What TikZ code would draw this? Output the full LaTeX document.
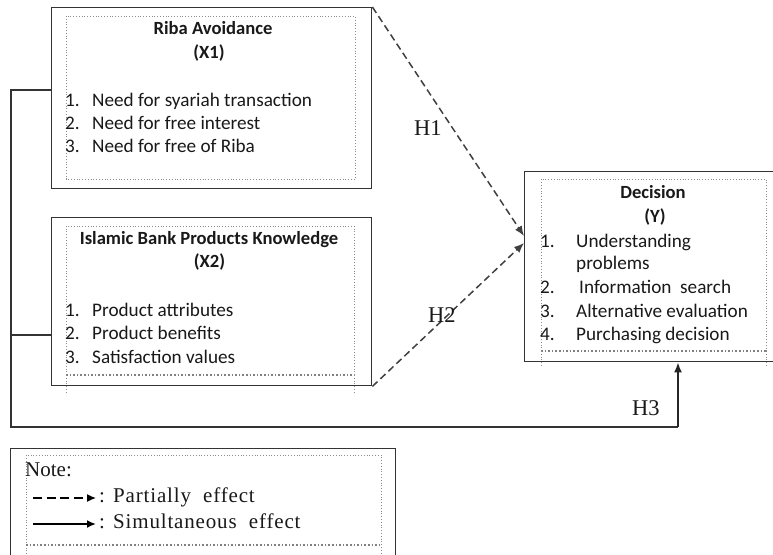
\documentclass[tikz,border=0pt]{standalone}
\usepackage{fontspec}
\setmainfont{Liberation Serif}
\newfontfamily\calfont{Carlito}
\newfontfamily\notefont[LetterSpace=4]{Liberation Serif}
\usetikzlibrary{calc,arrows.meta}
\begin{document}
\begin{tikzpicture}[x=1pt,y=-1pt,
  outerbox/.style={draw=black!80,line width=1.4pt,anchor=north west,inner sep=0pt,fill=none},
  dotline/.style={draw=black!45,dotted,line width=0.8pt},
  dotthick/.style={draw=black!50,dotted,line width=1.6pt},
  boxtxt/.style={inner sep=0pt,anchor=base west,font=\calfont\fontsize{19.2}{23}\selectfont,text=black!90},
  boxtitle/.style={inner sep=0pt,anchor=base,font=\calfont\bfseries\fontsize{18.6}{23}\selectfont,text=black!90},
  hlabel/.style={inner sep=0pt,anchor=base west,font=\fontsize{22.5}{26}\selectfont,text=black!90},
  notetxt/.style={inner sep=0pt,anchor=base west,font=\notefont\fontsize{21}{24}\selectfont,text=black!90},
  notehead/.style={inner sep=0pt,anchor=base west,font=\fontsize{21}{24}\selectfont,text=black!90},
  dasharrow/.style={draw=black!75,line width=1.5pt,dash pattern=on 7pt off 4pt,-{Latex[length=10pt,width=8pt]}},
  solidarrow/.style={draw=black!85,line width=1.7pt,-{Latex[length=10pt,width=8pt]}},
  conn/.style={draw=black!80,line width=1.4pt}
]
\clip (0,0) rectangle (773,554);
\fill[white] (0,0) rectangle (773,554);

% ---------- X1 ----------
\node[outerbox,minimum width=320pt,minimum height=181pt] (x1) at (51,7) {};
\draw[dotline] (66,16) rectangle (355,179);
\node[boxtitle] (x1t) at (213,34) {Riba Avoidance};
\node[boxtitle] (x1s) at (209,58) {(X1)};
\node[boxtxt] (x1n1) at (65,106) {1.};
\node[boxtxt] (x1i1) at (92,106) {Need for syariah transaction};
\node[boxtxt] (x1n2) at (65,129) {2.};
\node[boxtxt] (x1i2) at (92,129) {Need for free interest};
\node[boxtxt] (x1n3) at (65,152.5) {3.};
\node[boxtxt] (x1i3) at (92,152.5) {Need for free of Riba};

% ---------- X2 ----------
\node[outerbox,minimum width=320pt,minimum height=168pt] (x2) at (51,217) {};
\draw[dotline] (66,375) -- (66,226) -- (354,226) -- (354,375);
\draw[dotthick] (66,375) -- (354,375);
\draw[dotline] (66,375) -- (66,392);
\draw[dotline] (354,375) -- (354,392);
\node[boxtitle] (x2t) at (209,244) {Islamic Bank Products Knowledge};
\node[boxtitle] (x2s) at (209.5,267) {(X2)};
\node[boxtxt] (x2n1) at (65,316) {1.};
\node[boxtxt] (x2i1) at (92,316) {Product attributes};
\node[boxtxt] (x2n2) at (65,339) {2.};
\node[boxtxt] (x2i2) at (92,339) {Product benefits};
\node[boxtxt] (x2n3) at (65,363) {3.};
\node[boxtxt] (x2i3) at (92,363) {Satisfaction\ values};

% ---------- Y ----------
\node[outerbox,minimum width=260pt,minimum height=190pt] (y) at (524,171) {};
\draw[dotline] (541,351) -- (541,179) -- (766,179) -- (766,351);
\draw[dotthick] (541,351) -- (766,351);
\draw[dotline] (541,351) -- (541,367);
\draw[dotline] (766,351) -- (766,367);
\node[boxtitle] (yt) at (653,198) {Decision};
\node[boxtitle] (ys) at (655,222) {(Y)};
\node[boxtxt] (yn1) at (540,247) {1.};
\node[boxtxt] (yi1) at (576,247) {Understanding};
\node[boxtxt] (yi1b) at (576,269) {problems};
\node[boxtxt] (yn2) at (540,293) {2.};
\node[boxtxt] (yi2) at (579,293) {Information\ \ search};
\node[boxtxt] (yn3) at (540,317) {3.};
\node[boxtxt] (yi3) at (576,317) {Alternative evaluation};
\node[boxtxt] (yn4) at (540,340) {4.};
\node[boxtxt] (yi4) at (576,340) {Purchasing decision};

% ---------- connectors ----------
\draw[dasharrow] (x1.north east) -- ($(y.north west)+(0,65)$);
\draw[dasharrow] (x2.south east) -- ($(y.north west)+(0,72)$);
\draw[conn] ($(x2.north west)+(0,118)$) -- ++(-40,0);
\draw[conn] ($(x1.north west)+(0,83)$) -| (11,427) -- (678,427);
\draw[solidarrow] (678,427) -- ($(y.south west)+(154,0)$);

\node[hlabel] (h1) at (414,135) {H1};
\node[hlabel] (h2) at (428,322) {H2};
\node[hlabel] (h3) at (632,415) {H3};

% ---------- legend ----------
\node[outerbox,minimum width=385pt,minimum height=130pt] (note) at (10,448) {};
\draw[dotline] (26,554) -- (26,455) -- (381,455) -- (381,554);
\draw[dotthick] (26,545) -- (381,545);
\node[notehead] (nt) at (25,476) {Note:};
\coordinate (la1) at (33,498);
\coordinate (lb1) at (96,498);
\coordinate (la2) at (33,524);
\coordinate (lb2) at (96,524);
\draw[draw=black,line width=1.3pt,dash pattern=on 9pt off 4.5pt,-{Latex[length=9pt,width=8pt]}] (la1) -- (lb1);
\draw[draw=black,line width=1.8pt,-{Latex[length=9pt,width=8pt]}] (la2) -- (lb2);
\node[notetxt] (n1) at (99,502) {: Partially\ \ effect};
\node[notetxt] (n2) at (99,528) {: Simultaneous\ \ effect};
\end{tikzpicture}
\end{document}
